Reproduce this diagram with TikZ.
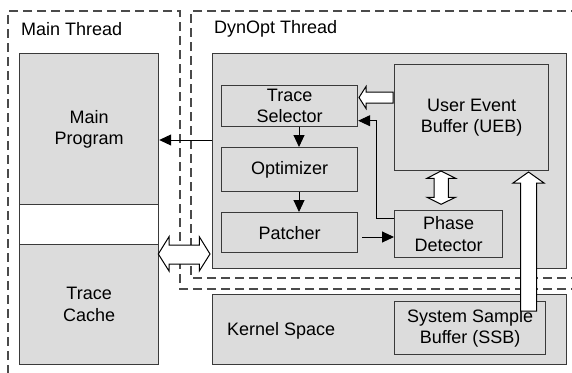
\documentclass[tikz,border=0pt]{standalone}
\usepackage{fontspec}
\setmainfont{Liberation Sans}
\usetikzlibrary{arrows.meta,calc}
\definecolor{lc}{HTML}{3A3A3A}
\definecolor{gf}{HTML}{DCDCDC}
\definecolor{dc}{HTML}{4A4A4A}
\begin{document}
\begin{tikzpicture}[x=1pt,y=-1pt,
  font=\fontsize{18}{21.5}\selectfont,
  box/.style={draw=lc, fill=gf, line width=1.2pt, inner sep=0pt, align=center, anchor=north west},
  wbox/.style={box, fill=white},
  dline/.style={draw=dc, line width=1.2pt, dash pattern=on 9pt off 5pt},
  conn/.style={draw=black, line width=1pt, -{Triangle[length=12pt,width=11pt]}},
  blockarrow/.style={draw=black, fill=white, line width=1pt, line join=miter},
  lbl/.style={anchor=west, inner sep=0pt}
]
\useasboundingbox (0,0) rectangle (572,372);
\fill[white] (0,0) rectangle (572,372);

% dashed thread regions
\draw[dline] (580,289) -- (180,289) -- (180,11) -- (8,11) -- (8,380);
\draw[dline] (580,11) -- (191,11) -- (191,278) -- (580,278);

\node[lbl] (mtlabel) at (21,29) {Main Thread};
\node[lbl] (dtlabel) at (214,29) {DynOpt Thread};

% main thread boxes
\node[box, minimum width=139pt, minimum height=151pt] (mainprog) at (19,53) {Main\\Program};
\node[wbox, minimum width=139pt, minimum height=40pt] (gap) at (19,204) {};
\node[box, minimum width=139pt, minimum height=120pt] (tcache) at (19,244) {Trace\\Cache};

% DynOpt thread
\node[box, minimum width=354pt, minimum height=215pt] (dynbox) at (212,53) {};
\node[box, minimum width=136pt, minimum height=41pt] (ts) at (221,85) {Trace\\Selector};
\node[box, minimum width=136pt, minimum height=44pt] (opt) at (221,147) {Optimizer};
\node[box, minimum width=136pt, minimum height=40pt] (pat) at (221,212) {Patcher};
\node[box, minimum width=154pt, minimum height=106pt] (ueb) at (394,64) {User Event\\Buffer (UEB)};
\node[box, minimum width=108pt, minimum height=47pt] (pd) at (394,210) {Phase\\Detector};

% kernel space
\node[box, minimum width=354pt, minimum height=70pt] (kernel) at (212,294) {};
\node[lbl] (klabel) at (227,331) {Kernel Space};
\node[box, minimum width=151pt, minimum height=53pt] (ssb) at (394,301) {System Sample\\Buffer (SSB)};

% connectors
\coordinate (c1) at (0,140);
\draw[conn] (dynbox.west |- c1) -- (mainprog.east |- c1);
\coordinate (c2) at (299,0);
\draw[conn] (ts.south -| c2) -- (opt.north -| c2);
\draw[conn] (opt.south -| c2) -- (pat.north -| c2);
\coordinate (c3) at (362,237);
\draw[conn] (c3) -- (pd.west |- c3);
\coordinate (c4) at (376,218);
\coordinate (c5) at (376,120.7);
\draw[conn] (pd.west |- c4) -- (c4) -- (c5) -- (ts.east |- c5);

% block arrows
\draw[blockarrow] (393,92) -- (366,92) -- (366,86.5) -- (359,97.5) -- (366,108.5) -- (366,103) -- (393,103) -- cycle;
\draw[blockarrow] (434,178.3) -- (427,178.3) -- (441,171) -- (455.5,178.3) -- (448.3,178.3) -- (448.3,197.3) -- (455.5,197.3) -- (441,204.3) -- (427,197.3) -- (434,197.3) -- cycle;
\draw[blockarrow] (169,245) -- (169,236.7) -- (158.3,254) -- (169,271) -- (169,264) -- (199.3,264) -- (199.3,271) -- (210,254) -- (199.3,236.7) -- (199.3,245) -- cycle;
\draw[blockarrow] (520.5,311) -- (520.5,183) -- (513,183) -- (528.5,172) -- (544,183) -- (536.5,183) -- (536.5,311) -- cycle;
\end{tikzpicture}
\end{document}
